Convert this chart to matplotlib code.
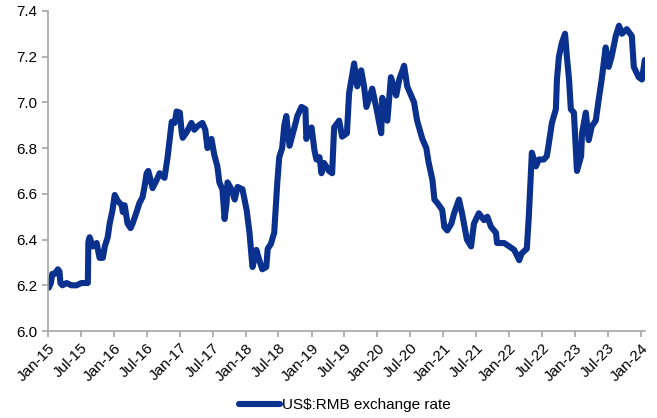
import numpy as np
import pandas as pd
import matplotlib
matplotlib.use('Agg')
import matplotlib.pyplot as plt
import matplotlib.dates as mdates

plt.rcParams['font.family'] = ['Liberation Sans', 'DejaVu Sans']

# US$:RMB exchange rate, sampled at turning points
dates = [
    # 2015
    '2015-01-01', '2015-01-06', '2015-01-17', '2015-01-25', '2015-02-08', '2015-02-25',
    '2015-03-06', '2015-03-11', '2015-03-22', '2015-04-14', '2015-05-11', '2015-06-08',
    '2015-07-05', '2015-08-03', '2015-08-10', '2015-08-13', '2015-08-20', '2015-09-06',
    '2015-09-28', '2015-10-14', '2015-11-01', '2015-11-12', '2015-11-28', '2015-12-09',
    '2015-12-25',
    # 2016
    '2016-01-06', '2016-01-22', '2016-02-14', '2016-02-20', '2016-03-01', '2016-03-17',
    '2016-04-03', '2016-04-14', '2016-05-06', '2016-05-22', '2016-06-08', '2016-06-19',
    '2016-07-01', '2016-07-10', '2016-08-03', '2016-08-25', '2016-09-11', '2016-10-08',
    '2016-10-25', '2016-11-06', '2016-11-17', '2016-12-03', '2016-12-14',
    # 2017
    '2017-01-01', '2017-01-11', '2017-01-17', '2017-02-08', '2017-03-06', '2017-03-22',
    '2017-04-08', '2017-05-06', '2017-05-22', '2017-06-03', '2017-06-25', '2017-07-11',
    '2017-07-28', '2017-08-08', '2017-08-25', '2017-09-06', '2017-09-17', '2017-09-22',
    '2017-10-14', '2017-11-01', '2017-11-17', '2017-12-14',
    # 2018
    '2018-01-06', '2018-01-22', '2018-02-03', '2018-02-08', '2018-03-01', '2018-03-17',
    '2018-04-03', '2018-04-25', '2018-05-03', '2018-05-20', '2018-06-08', '2018-06-25',
    '2018-07-06', '2018-07-22', '2018-08-03', '2018-08-14', '2018-09-01', '2018-09-28',
    '2018-10-14', '2018-11-06', '2018-11-28', '2018-12-03', '2018-12-20',
    # 2019
    '2019-01-01', '2019-01-17', '2019-01-28', '2019-02-14', '2019-02-25', '2019-03-11',
    '2019-04-08', '2019-04-25', '2019-05-06', '2019-06-03', '2019-06-19', '2019-07-16',
    '2019-07-28', '2019-08-25', '2019-09-11', '2019-10-03', '2019-10-19', '2019-11-01',
    '2019-12-03', '2019-12-25',
    # 2020
    '2020-01-22', '2020-01-28', '2020-02-25', '2020-03-16', '2020-04-14', '2020-05-01',
    '2020-05-28', '2020-06-14', '2020-07-22', '2020-08-08', '2020-09-06', '2020-09-28',
    '2020-10-10', '2020-11-01', '2020-11-12', '2020-11-28', '2020-12-25',
    # 2021
    '2021-01-06', '2021-01-22', '2021-02-14', '2021-03-01', '2021-03-28', '2021-04-14',
    '2021-05-11', '2021-06-03', '2021-06-19', '2021-07-16', '2021-08-14', '2021-09-01',
    '2021-09-22', '2021-10-19', '2021-10-25', '2021-12-03',
    # 2022
    '2022-01-01', '2022-01-28', '2022-02-25', '2022-03-11', '2022-04-08', '2022-04-19',
    '2022-05-06', '2022-05-28', '2022-06-14', '2022-07-11', '2022-07-28', '2022-08-08',
    '2022-08-25', '2022-09-16', '2022-09-22', '2022-10-03', '2022-10-19', '2022-11-06',
    '2022-11-16', '2022-11-28', '2022-12-08', '2022-12-25',
    # 2023
    '2023-01-11', '2023-02-03', '2023-02-08', '2023-03-01', '2023-03-17', '2023-04-03',
    '2023-04-25', '2023-05-11', '2023-05-28', '2023-06-19', '2023-07-06', '2023-07-22',
    '2023-08-14', '2023-09-01', '2023-09-17', '2023-10-14', '2023-11-11', '2023-11-22',
    '2023-12-19',
    # 2024
    '2024-01-06', '2024-01-22',
]

rates = [
    # 2015
    6.22, 6.19, 6.21, 6.25, 6.25, 6.27,
    6.26, 6.21, 6.20, 6.21, 6.20, 6.20,
    6.21, 6.21, 6.21, 6.39, 6.41, 6.37,
    6.385, 6.32, 6.32, 6.37, 6.41, 6.47,
    6.53,
    # 2016
    6.595, 6.57, 6.55, 6.52, 6.55, 6.47,
    6.45, 6.47, 6.52, 6.56, 6.585, 6.63,
    6.69, 6.70, 6.625, 6.66, 6.69, 6.67,
    6.76, 6.84, 6.915, 6.91, 6.96,
    # 2017
    6.955, 6.87, 6.845, 6.87, 6.91, 6.88,
    6.895, 6.91, 6.88, 6.80, 6.84, 6.77,
    6.72, 6.65, 6.62, 6.49, 6.56, 6.65,
    6.62, 6.575, 6.63, 6.62,
    # 2018
    6.53, 6.43, 6.32, 6.28, 6.355, 6.31,
    6.27, 6.28, 6.36, 6.38, 6.43, 6.65,
    6.76, 6.80, 6.90, 6.94, 6.81, 6.89,
    6.94, 6.98, 6.97, 6.84, 6.88,
    # 2019
    6.89, 6.79, 6.75, 6.76, 6.69, 6.735,
    6.70, 6.69, 6.89, 6.92, 6.85, 6.865,
    7.04, 7.17, 7.07, 7.14, 7.07, 6.98,
    7.06, 6.98,
    # 2020
    6.865, 7.02, 6.92, 7.11, 7.03, 7.10,
    7.16, 7.07, 7.00, 6.92, 6.84, 6.80,
    6.74, 6.66, 6.575, 6.56, 6.53,
    # 2021
    6.455, 6.44, 6.47, 6.515, 6.575, 6.515,
    6.40, 6.37, 6.47, 6.515, 6.485, 6.50,
    6.455, 6.43, 6.385, 6.385,
    # 2022
    6.37, 6.355, 6.31, 6.34, 6.36, 6.50,
    6.78, 6.72, 6.75, 6.75, 6.765, 6.82,
    6.91, 6.97, 7.10, 7.20, 7.26, 7.30,
    7.20, 7.10, 6.97, 6.955,
    # 2023
    6.70, 6.765, 6.865, 6.955, 6.835, 6.895,
    6.92, 7.01, 7.10, 7.24, 7.155, 7.20,
    7.29, 7.335, 7.30, 7.32, 7.29, 7.155,
    7.11,
    # 2024
    7.10, 7.185,
]

tick_dates = pd.date_range('2015-01-01', '2024-01-01', freq='6MS')
y_ticks = [6.0, 6.2, 6.4, 6.6, 6.8, 7.0, 7.2, 7.4]

line_color = '#0B318F'
axis_color = '#A6A6A6'

fig = plt.figure(figsize=(6.57, 4.18), dpi=100)
ax = fig.add_axes([0.073, 0.208, 0.909, 0.766])

ax.plot(pd.to_datetime(dates), rates, color=line_color, lw=4.4,
        solid_joinstyle='round', solid_capstyle='round',
        label='US$:RMB exchange rate')

ax.set_xlim(pd.Timestamp('2015-01-01'), pd.Timestamp('2024-01-24'))
ax.set_ylim(6.0, 7.4)
ax.set_yticks(y_ticks)
ax.set_yticklabels(['%.1f' % v for v in y_ticks])
ax.set_xticks(tick_dates)
ax.xaxis.set_major_formatter(mdates.DateFormatter('%b-%y'))
plt.setp(ax.get_xticklabels(), rotation=45, ha='right', rotation_mode='anchor')

for side in ['top', 'right']:
    ax.spines[side].set_visible(False)
for side in ['left', 'bottom']:
    ax.spines[side].set_color(axis_color)
    ax.spines[side].set_linewidth(1.2)
ax.tick_params(axis='both', colors=axis_color, labelcolor='#000000',
               labelsize=11, length=4, width=1.2, direction='out')
ax.tick_params(axis='x', pad=3)

fig.legend(loc='center', bbox_to_anchor=(0.525, 0.031), frameon=False,
           fontsize=11, handlelength=2.7, handletextpad=0.15)

fig.savefig('out.png', dpi=100)
